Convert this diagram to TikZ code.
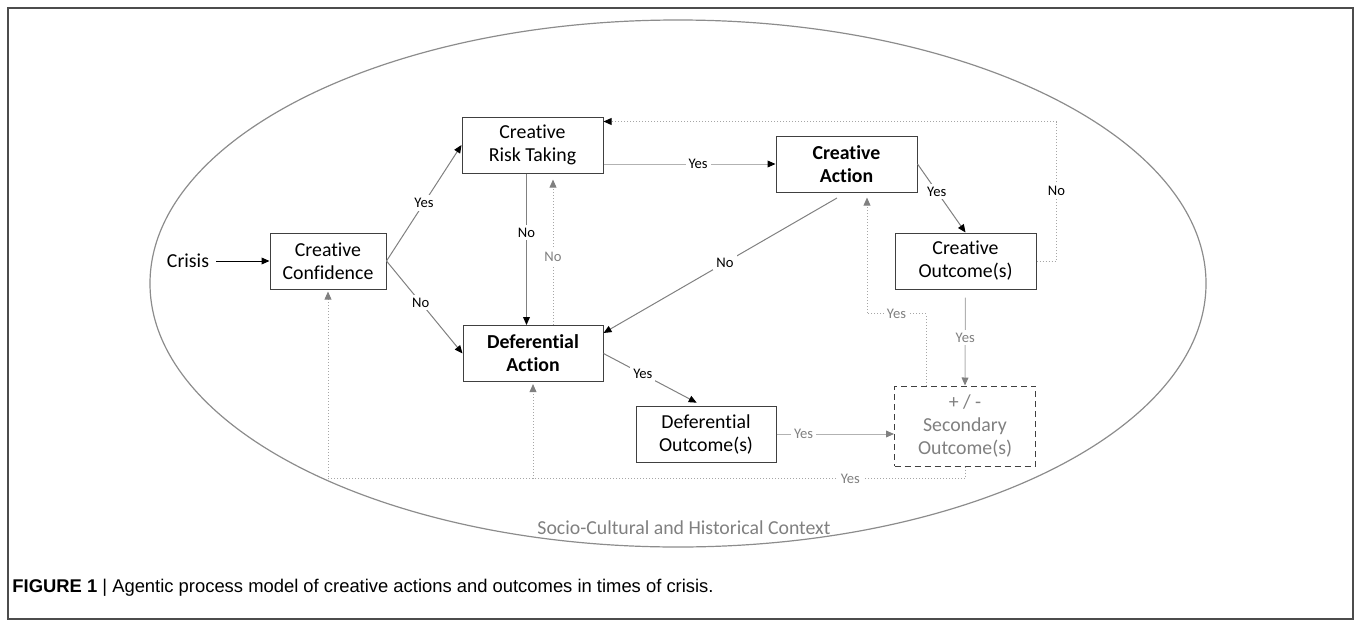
\documentclass[tikz,border=0pt]{standalone}
\usepackage{fontspec}
\setmainfont{Carlito}[Ligatures=NoCommon]
\newfontfamily\captionfont{Liberation Sans}
\usetikzlibrary{positioning,arrows.meta}

\begin{document}
\begin{tikzpicture}[
  x=0.5pt, y=-0.5pt,
  on grid,
  box/.style={draw=black!75, line width=0.5pt, minimum width=70.5pt, minimum height=28pt,
    inner sep=1pt, align=center, font=\fontsize{9.9}{11.5}\selectfont},
  lbl/.style={fill=white, inner sep=1.5pt, font=\fontsize{7.3}{8}\selectfont},
  glbl/.style={lbl, text=black!50},
  flow/.style={draw=black!50, line width=0.5pt, -{Triangle[length=4pt,width=3.4pt,color=black]}},
  gflow/.style={draw=black!30, line width=0.5pt, -{Triangle[length=4pt,width=3.4pt,color=black!50]}},
  back/.style={draw=black!35, line width=0.5pt, densely dotted, -{Triangle[length=4pt,width=3.4pt,color=black!50]}}
]
  \useasboundingbox (0,0) rectangle (1358,621);
  \draw[black!70, line width=0.6pt] (8,8) rectangle (1353,619);

  % context
  \draw[black!45, line width=0.6pt] (678,283.5) ellipse [x radius=528, y radius=263.5];
  \node[text=black!50, font=\fontsize{9.9}{11}\selectfont] (ctx) at (684,528) {Socio-Cultural and Historical Context};

  % process boxes
  \node[box, minimum width=58pt] (conf) at (328,261) {Creative\\Confidence};
  \node[font=\fontsize{9.9}{11.5}\selectfont, left=70pt of conf] (crisis) {Crisis};
  \node[box] (risk) at (532.5,145) {Creative\\Risk Taking};
  \node[box, font=\fontsize{9.9}{11.5}\selectfont\bfseries] (cact) at (846.5,164) {Creative\\Action};
  \node[box] (cout) at (965.5,261) {Creative\\Outcome(s)};
  \node[box, minimum width=70pt, font=\fontsize{9.9}{11.5}\selectfont\bfseries] (dact) at (533,353.5) {Deferential\\Action};
  \node[box, minimum width=70pt] (dout) at (706,434) {Deferential\\Outcome(s)};
  \node[box, densely dashed, minimum height=40pt, text=black!50] (sec) at (965,426) {+ / -\\Secondary\\Outcome(s)};

  % connectors
  \draw[flow, draw=black] (crisis) -- (conf);
  \draw[flow] (conf.east) -- node[lbl]{Yes} (risk.west);
  \draw[flow] (conf.east) -- node[lbl, pos=0.45]{No} (dact.west);
  \draw[flow] ([xshift=-3pt]risk.south) -- node[lbl, pos=0.39]{No} ([xshift=-3pt]risk.south |- dact.north);
  \draw[back, shorten >=3pt] ([xshift=10pt]dact.north) -- node[glbl, pos=0.45]{No} ([xshift=10pt]dact.north |- risk.south);
  \draw[flow, draw=black!30] (cact.west -| risk.east) -- node[lbl, pos=0.55]{Yes} (cact.west);
  \draw[flow, shorten <=5.5pt] (cact.south) -- node[lbl]{No} ([yshift=-4pt]dact.north east);
  \draw[flow] (cact.east) -- node[lbl, pos=0.4]{Yes} (cout.north);
  \draw[back, -{Triangle[length=4pt,width=3.4pt,color=black]}] (cout.east) -- ++(20,0)
    |- node[lbl, pos=0.25]{No} ([yshift=-2.5pt]risk.north east);
  \draw[gflow, shorten <=4pt] (cout.south) -- node[glbl]{Yes} (sec.north);
  \draw[back, shorten >=2.5pt] ([xshift=-19.5pt]sec.north) -- ++(0,-72)
    -| node[glbl, pos=0.25]{Yes} ([xshift=10.25pt]cact.south);
  \draw[flow, shorten >=3pt] (dact.east) -- node[lbl, pos=0.4]{Yes} ([xshift=-2pt]dout.north);
  \draw[gflow] (dout.east) -- node[glbl, pos=0.23]{Yes} (dout.east -| sec.west);
  \draw[back, shorten >=1pt] (sec.south) -- ++(0,12) coordinate (low)
    -| node[glbl, pos=0.09]{Yes} (conf.south);
  \draw[back, shorten >=1pt] (low -| dact.south) -- (dact.south);

  \node[anchor=west, inner sep=0pt, font=\captionfont\fontsize{9.2}{11}\selectfont] (cap) at (12,588)
    {\textbf{FIGURE 1} | Agentic process model of creative actions and outcomes in times of crisis.};
\end{tikzpicture}
\end{document}
